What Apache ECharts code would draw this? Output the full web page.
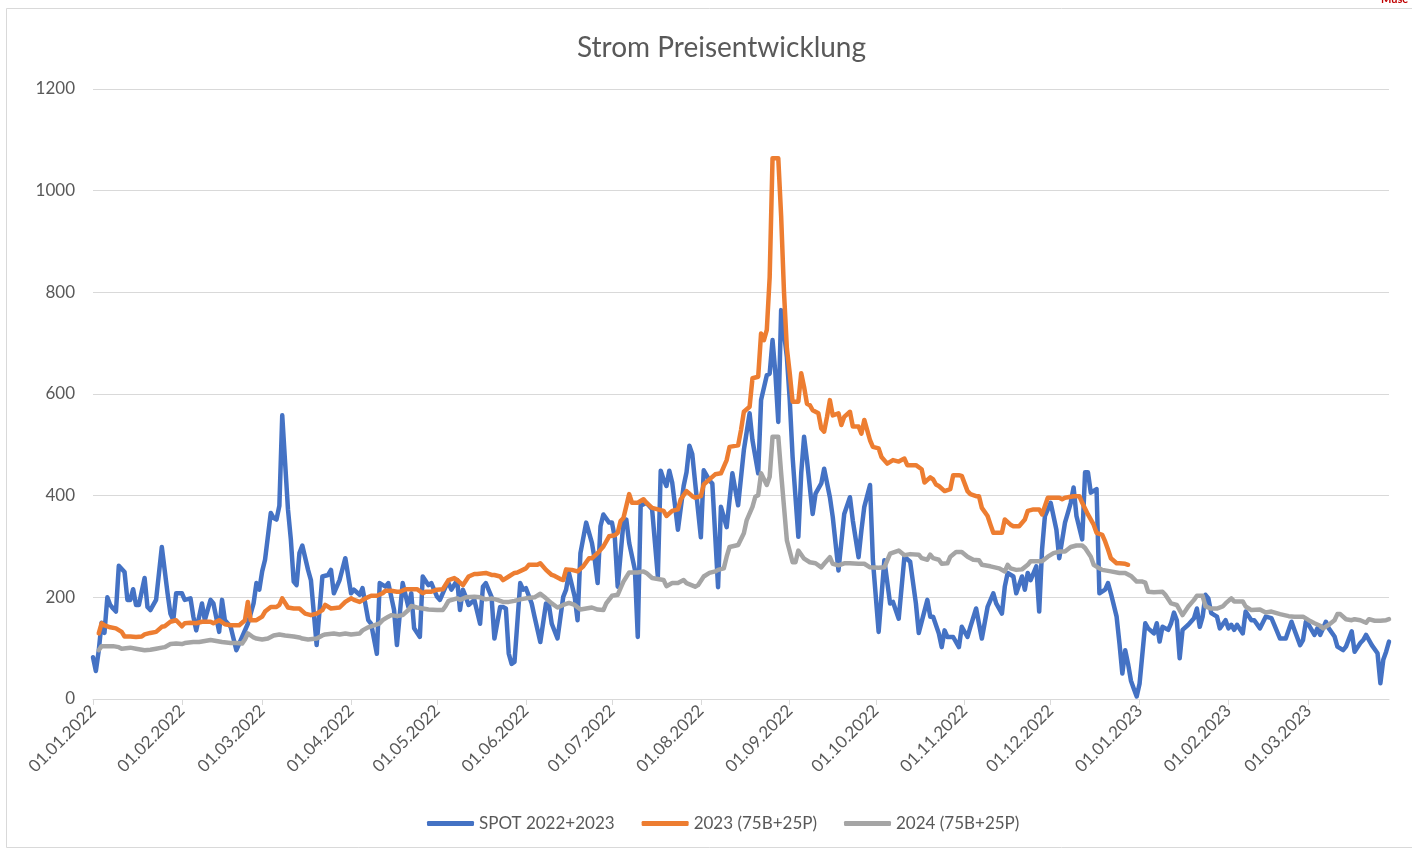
<!DOCTYPE html>
<html>
<head>
<meta charset="utf-8">
<title>Strom Preisentwicklung</title>
<script src="https://cdn.jsdelivr.net/npm/echarts@6/dist/echarts.min.js"></script>
<style>
  html, body { margin: 0; padding: 0; background: #fff; }
  #chart { width: 1412px; height: 851px; }
</style>
</head>
<body>
<div id="chart"></div>
<script>
// x-Werte = Tage seit 01.01.2022
const monthStarts = [0, 31, 59, 90, 120, 151, 181, 212, 243, 273, 304, 334, 365, 396, 424];
const tickLabels = ['01.01.2022', '01.02.2022', '01.03.2022', '01.04.2022', '01.05.2022', '01.06.2022',
  '01.07.2022', '01.08.2022', '01.09.2022', '01.10.2022', '01.11.2022', '01.12.2022',
  '01.01.2023', '01.02.2023', '01.03.2023'];

const spotDays = [0,1,2,3,4,5,6,7,8,9,11,12,13,14,15,16,18,19,20,22,24,26,27,28,29,31,32,34,35,36,38,39,41,42,44,45,46,48,50,52,54,56,57,58,59,60,62,63,64,65,66,67,68,69,70,71,72,73,75,76,78,80,82,83,84,86,88,90,91,93,94,96,97,99,100,102,103,105,106,108,110,111,112,114,115,117,118,120,121,123,124,125,127,128,129,130,131,133,135,136,137,139,140,142,143,144,145,146,147,149,150,151,153,154,156,158,159,160,162,164,165,166,168,169,170,172,174,175,176,177,178,180,181,182,183,185,186,187,189,190,191,193,195,196,197,198,199,200,201,202,203,204,206,207,208,209,210,212,213,215,216,218,219,221,223,225,227,229,230,232,233,235,236,237,238,239,240,241,242,243,244,246,247,248,249,251,252,254,255,257,258,260,262,264,265,267,268,269,271,272,274,276,278,279,281,283,285,287,288,291,292,293,295,296,297,298,300,302,303,305,306,308,309,310,312,314,315,317,318,319,321,322,324,325,326,327,329,330,331,332,334,336,337,339,340,341,342,343,345,346,347,348,350,351,353,354,355,357,358,359,360,361,362,363,364,365,367,368,370,371,372,373,375,376,377,378,379,380,382,384,385,386,387,388,389,390,392,393,395,396,397,398,399,401,402,404,405,407,409,411,412,414,416,418,419,421,422,423,424,426,427,428,430,431,433,434,436,437,439,440,442,443,444,446,448,449,450,451,452];
const spotPrices = [82,55,95,150,130,200,185,178,172,262,250,195,195,216,185,185,238,181,175,195,299,208,168,155,208,208,195,198,162,135,188,155,195,188,132,195,155,142,96,122,148,188,228,215,251,274,366,356,353,380,558,465,373,314,231,224,287,302,254,234,106,241,244,254,208,234,277,208,215,205,218,155,148,89,228,221,228,175,106,228,181,208,139,122,241,224,228,201,195,221,228,215,234,175,215,201,185,195,148,221,228,201,119,181,181,178,89,69,73,228,215,218,188,162,112,188,185,148,119,201,215,248,201,155,287,347,307,274,228,340,363,347,347,317,221,347,353,307,254,122,380,386,373,307,241,449,432,419,449,426,380,333,419,446,498,482,426,318,450,430,424,220,378,338,444,381,490,562,509,444,588,637,640,706,640,545,765,720,673,588,476,319,444,516,470,364,404,424,453,397,358,253,364,397,351,279,332,378,421,273,132,273,188,191,158,280,270,188,130,195,162,162,129,102,135,122,122,102,142,122,142,178,148,119,181,208,188,168,221,248,241,208,241,215,248,234,261,172,294,360,386,333,277,347,366,386,416,360,314,446,446,406,413,208,215,228,208,162,109,50,96,69,36,20,5,30,149,139,129,149,113,142,136,149,170,155,80,136,146,159,178,142,162,205,198,169,162,139,155,139,146,136,146,129,172,155,155,139,162,159,146,119,119,152,136,106,116,152,146,126,139,126,152,139,123,103,96,103,133,93,110,116,126,106,90,31,77,93,113];

const fwd23Days = [2,3,4,6,8,10,11,13,15,17,18,20,22,24,25,27,29,31,32,34,36,38,41,42,44,46,48,51,53,54,55,57,59,60,62,64,65,66,68,70,72,74,76,78,80,81,83,86,88,90,91,93,95,97,99,101,102,104,106,107,109,111,113,115,116,118,120,122,124,126,127,129,131,133,134,137,139,140,142,143,145,147,148,151,152,155,156,158,160,161,163,164,165,167,169,171,173,174,176,178,180,182,183,184,185,187,188,190,192,193,195,197,199,200,202,204,205,207,209,210,212,213,215,217,219,221,222,225,226,227,229,230,232,233,234,235,236,237,238,239,240,241,242,243,244,246,247,248,249,250,251,253,254,255,256,257,258,260,261,262,264,265,267,268,269,271,272,274,275,277,279,281,283,284,287,289,290,292,293,294,295,297,299,300,302,303,305,306,308,309,310,312,313,314,317,318,320,321,323,325,326,328,330,331,333,337,338,339,342,344,345,347,349,350,352,353,354,355,357,358,360,361];
const fwd23Prices = [129,149,145,141,139,132,123,123,122,123,127,130,132,142,143,152,155,143,149,150,149,152,152,149,155,147,145,145,155,191,155,155,162,172,181,181,185,198,180,178,178,168,165,168,175,185,178,180,191,198,195,191,198,203,203,208,213,213,211,211,216,216,216,208,211,211,215,216,234,238,234,224,241,246,246,248,244,244,241,234,241,248,249,257,264,264,267,254,244,242,236,234,255,254,251,261,277,277,287,300,320,322,327,350,356,403,386,386,393,386,376,373,370,360,370,373,393,409,399,396,399,422,432,442,444,470,496,499,529,565,575,631,634,719,706,726,830,1064,1064,1064,950,800,690,641,585,585,641,614,581,578,568,562,532,526,555,588,558,562,539,555,565,536,536,522,549,509,496,493,476,463,470,467,473,460,460,452,426,436,432,422,419,409,413,440,440,439,409,403,399,399,376,360,343,327,327,353,343,340,340,353,370,373,373,363,396,396,393,396,399,399,386,363,343,327,323,310,294,277,267,267,266,264];

const fwd24Days = [2,3,4,7,9,10,13,15,17,18,20,22,24,25,27,29,31,32,35,37,39,41,43,45,48,50,52,53,54,56,57,59,61,63,65,67,70,72,73,75,78,80,81,84,86,88,90,93,94,96,98,100,101,103,104,106,108,110,111,113,115,117,120,122,123,124,127,128,130,133,135,137,139,141,143,145,147,149,151,154,156,158,160,162,164,166,168,170,172,174,176,178,179,181,183,184,185,187,190,192,193,195,197,199,200,202,204,206,207,210,211,213,215,217,218,220,221,222,225,227,228,230,231,232,233,235,236,237,239,240,241,242,244,245,246,248,250,252,254,255,257,258,260,262,264,267,269,271,274,276,278,281,283,285,288,289,291,292,293,295,296,298,299,301,303,305,307,309,310,313,316,318,319,320,322,324,326,327,331,333,335,337,339,341,343,345,346,348,349,351,352,355,358,360,362,364,366,367,368,370,373,374,376,378,379,380,382,384,385,387,388,390,392,394,395,397,398,401,402,404,407,409,411,414,417,419,422,424,426,428,429,431,433,434,435,437,439,440,442,444,445,447,449,451,452];
const fwd24Prices = [96,104,104,104,102,99,101,99,97,96,97,99,101,102,108,109,108,110,112,112,114,116,114,112,110,110,109,117,129,121,119,117,119,125,127,125,123,121,119,117,119,125,127,129,127,129,127,129,135,141,145,149,155,162,165,163,165,175,183,180,178,176,175,175,183,193,198,195,200,201,200,196,198,195,191,191,193,196,198,200,207,198,188,180,185,189,185,176,178,180,176,175,188,203,205,218,231,249,249,251,248,238,236,234,222,228,228,234,228,221,224,241,248,251,254,257,280,299,303,326,352,378,398,401,444,421,437,516,516,444,378,312,269,269,292,276,269,267,259,266,279,266,263,267,267,266,266,259,258,259,286,292,283,285,284,277,274,284,277,274,266,267,280,289,289,280,274,273,264,261,257,251,264,257,254,255,264,271,271,280,287,290,290,299,302,302,297,280,264,257,254,251,248,248,242,231,231,229,211,210,211,205,188,185,175,165,182,195,203,203,182,178,178,182,188,198,192,192,182,175,176,170,172,167,163,162,162,155,149,144,139,146,155,167,167,157,155,157,155,150,157,154,154,155,157];

const pairs = (days, vals) => days.map((d, i) => [d, vals[i]]);

const textColor = '#595959';
const gridColor = '#d9d9d9';
const font = 'Lato, "Open Sans", sans-serif';

const chart = echarts.init(document.getElementById('chart'));
chart.setOption({
  animation: false,
  backgroundColor: '#fff',
  textStyle: { fontFamily: font },
  title: {
    text: 'Strom Preisentwicklung',
    left: 572,
    top: 29,
    textStyle: { color: textColor, fontSize: 28, fontWeight: 'normal', fontFamily: font }
  },
  legend: {
    bottom: 14,
    left: 422,
    itemWidth: 47,
    itemHeight: 5,
    itemGap: 27,
    icon: 'roundRect',
    textStyle: { color: textColor, fontSize: 17, fontFamily: font },
    data: ['SPOT 2022+2023', '2023 (75B+25P)', '2024 (75B+25P)']
  },
  grid: { left: 93, right: 23, top: 89, bottom: 152, containLabel: false },
  xAxis: {
    type: 'value',
    min: 0,
    max: 452,
    axisLine: { show: true, lineStyle: { color: gridColor, width: 1 } },
    axisTick: { show: true, customValues: monthStarts, length: 6, lineStyle: { color: gridColor } },
    axisLabel: {
      customValues: monthStarts,
      rotate: 45,
      margin: 9,
      color: textColor,
      fontSize: 17,
      fontFamily: font,
      formatter: v => tickLabels[monthStarts.indexOf(v)] || ''
    },
    splitLine: { show: false }
  },
  yAxis: {
    type: 'value',
    min: 0,
    max: 1200,
    interval: 200,
    axisLine: { show: false },
    axisTick: { show: false },
    axisLabel: { color: textColor, fontSize: 17, margin: 18, fontFamily: font, formatter: v => String(v) },
    splitLine: { lineStyle: { color: gridColor, width: 1 } }
  },
  series: [
    {
      name: 'SPOT 2022+2023',
      type: 'line',
      data: pairs(spotDays, spotPrices),
      showSymbol: false,
      color: '#4472C4',
      lineStyle: { width: 4.5, cap: 'round', join: 'round' }
    },
    {
      name: '2023 (75B+25P)',
      type: 'line',
      data: pairs(fwd23Days, fwd23Prices),
      showSymbol: false,
      color: '#ED7D31',
      lineStyle: { width: 4.5, cap: 'round', join: 'round' }
    },
    {
      name: '2024 (75B+25P)',
      type: 'line',
      data: pairs(fwd24Days, fwd24Prices),
      showSymbol: false,
      color: '#A5A5A5',
      lineStyle: { width: 4.5, cap: 'round', join: 'round' }
    }
  ],
  graphic: [
    {
      type: 'rect',
      shape: { x: 6.5, y: 8.5, width: 1420, height: 839 },
      style: { fill: 'none', stroke: gridColor, lineWidth: 1 },
      silent: true
    },
    {
      type: 'text',
      left: 1381,
      top: -6,
      style: { text: 'Muse', fill: '#c00000', font: 'bold 11px ' + font },
      silent: true
    }
  ]
});
</script>
</body>
</html>
